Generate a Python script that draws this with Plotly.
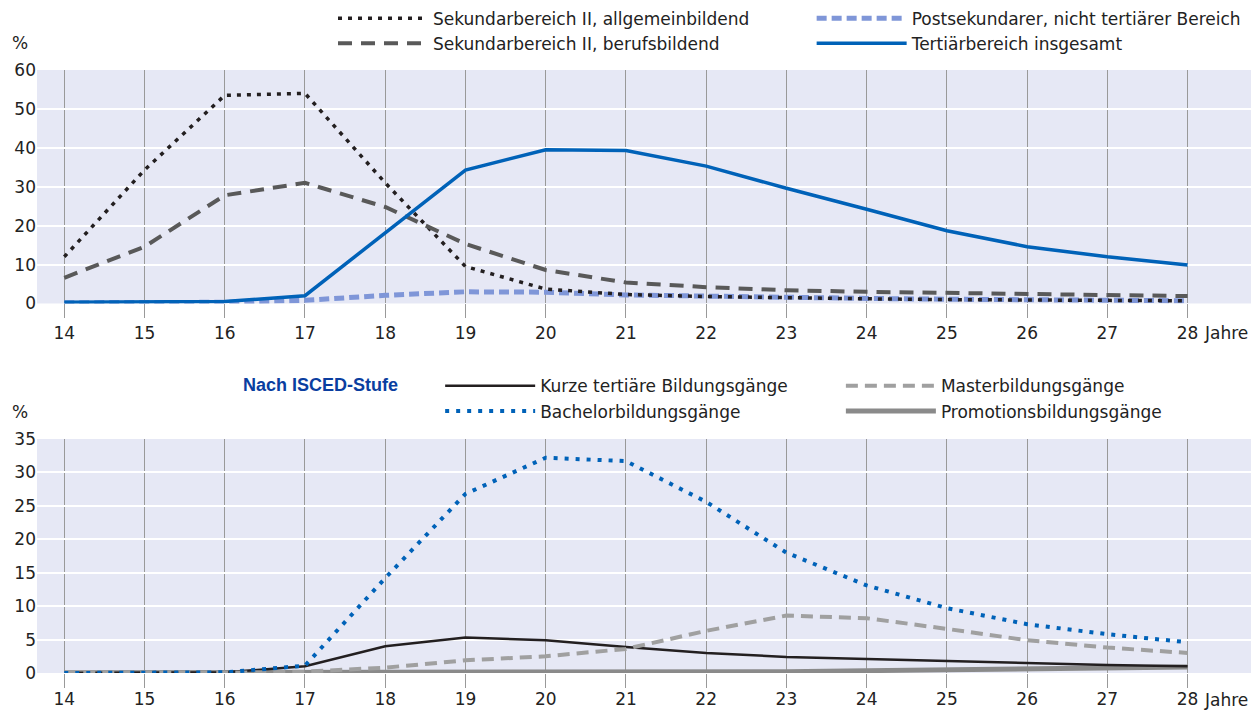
import plotly.graph_objects as go
from plotly.subplots import make_subplots

alter = list(range(14, 29))

# oberes Diagramm: Bildungsbereiche (%)
sek_allg = [12, 34.3, 53.5, 54, 31, 9.5, 3.7, 2.3, 1.8, 1.4, 1.2, 1.0, 0.9, 0.8, 0.7]
sek_beruf = [6.6, 14.6, 27.8, 31, 24.8, 15.3, 8.6, 5.4, 4.2, 3.4, 3.0, 2.7, 2.3, 2.0, 1.9]
postsek = [0.2, 0.2, 0.3, 0.8, 2.1, 3.0, 2.9, 2.2, 1.8, 1.5, 1.3, 1.1, 0.9, 0.8, 0.7]
tertiaer = [0.3, 0.3, 0.5, 2.0, 18.1, 34.3, 39.5, 39.3, 35.3, 29.6, 24.2, 18.7, 14.6, 12.0, 9.9]

# unteres Diagramm: nach ISCED-Stufe (%)
kurz = [0, 0, 0.1, 1.0, 4.0, 5.3, 4.9, 3.9, 3.0, 2.4, 2.1, 1.7, 1.4, 1.2, 1.0]
bachelor = [0, 0, 0.1, 1.1, 14.2, 26.8, 32.2, 31.7, 25.6, 18.0, 13.1, 9.7, 7.3, 5.8, 4.6]
master = [0, 0, 0.05, 0.2, 0.8, 1.9, 2.5, 3.6, 6.3, 8.6, 8.2, 6.6, 4.9, 3.8, 3.0]
promotion = [0.05, 0.05, 0.05, 0.05, 0.05, 0.05, 0.05, 0.05, 0.1, 0.2, 0.35, 0.5, 0.7, 0.8, 0.9]

oben_ticks = [0, 10, 20, 30, 40, 50, 60]
unten_ticks = [0, 5, 10, 15, 20, 25, 30, 35]

FONT = "DejaVu Sans"
BLAU = "#0062b8"
SCHWARZ = "#231f20"

fig = make_subplots(rows=2, cols=1, vertical_spacing=0.2)

# Zeichenreihenfolge: Postsekundar unten, Tertiär oben
oben = [
    ("Postsekundarer, nicht tertiärer Bereich", postsek, "#7f96d8", 5, "10px,5px", "legend2"),
    ("Sekundarbereich II, allgemeinbildend", sek_allg, SCHWARZ, 3.5, "4px,6px", "legend"),
    ("Sekundarbereich II, berufsbildend", sek_beruf, "#595959", 4, "14px,9px", "legend"),
    ("Tertiärbereich insgesamt", tertiaer, BLAU, 3.5, "solid", "legend2"),
]
for name, werte, farbe, breite, dash, leg in oben:
    fig.add_trace(
        go.Scatter(x=alter, y=werte, name=name, mode="lines",
                   line=dict(color=farbe, width=breite, dash=dash), legend=leg),
        row=1, col=1,
    )

unten = [
    ("Promotionsbildungsgänge", promotion, "#8a8a8a", 5, "solid", "legend4"),
    ("Kurze tertiäre Bildungsgänge", kurz, SCHWARZ, 2.5, "solid", "legend3"),
    ("Masterbildungsgänge", master, "#a0a0a0", 4, "12px,7px", "legend4"),
    ("Bachelorbildungsgänge", bachelor, BLAU, 4, "4px,7px", "legend3"),
]
for name, werte, farbe, breite, dash, leg in unten:
    fig.add_trace(
        go.Scatter(x=alter, y=werte, name=name, mode="lines",
                   line=dict(color=farbe, width=breite, dash=dash), legend=leg),
        row=2, col=1,
    )

legend_style = dict(
    orientation="v", xanchor="left", yanchor="top", itemwidth=90,
    bgcolor="rgba(0,0,0,0)", font=dict(family=FONT, size=17, color="#222"),
    itemclick=False, tracegroupgap=0,
)
# Seite hat 8px Rand: Abbildung daher 8px kleiner
fig.update_layout(
    width=1251, height=702,
    plot_bgcolor="#e6e8f5", paper_bgcolor="white",
    font=dict(family=FONT, size=17, color="#222"),
    margin=dict(l=29, r=4, t=62, b=37, autoexpand=False),
    showlegend=True,
    legend=dict(x=0.243, y=1.115, **legend_style),
    legend2=dict(x=0.636, y=1.115, **legend_style),
    legend3=dict(x=0.331, y=0.5053, **legend_style),
    legend4=dict(x=0.66, y=0.5053, traceorder="reversed", **legend_style),
)

fig.update_xaxes(
    range=[13.66, 28.84], tickvals=alter, showgrid=True, gridcolor="#999",
    gridwidth=1, ticks="outside", ticklen=14, tickcolor="#999", zeroline=False,
    showline=False, automargin=False,
)
fig.update_xaxes(ticklabelstandoff=-3, row=2, col=1)
fig.update_yaxes(gridcolor="white", gridwidth=2, zeroline=False, showline=False,
                 automargin=False)
fig.update_yaxes(range=[0, 60], tickvals=oben_ticks, row=1, col=1)
fig.update_yaxes(range=[0, 35], tickvals=unten_ticks, row=2, col=1)
fig.update_layout(
    yaxis=dict(domain=[0.6128, 1]),
    yaxis2=dict(domain=[0, 0.388]),
)

for yref, xref, yshift in [("y domain", "x", -30), ("y2 domain", "x2", -27)]:
    fig.add_annotation(x=0, xref="paper", y=1, yref=yref, yshift=27, xshift=-17,
                       text="%", showarrow=False, xanchor="center", yanchor="middle")
    fig.add_annotation(x=28, xref=xref, y=0, yref=yref, yshift=yshift, xshift=14,
                       text="Jahre", showarrow=False, xanchor="left", yanchor="middle")

fig.add_annotation(x=(400 - 37) / 1218, xref="paper", y=0.477, yref="paper",
                   text="<b>Nach ISCED-Stufe</b>", showarrow=False,
                   xanchor="right", yanchor="middle",
                   font=dict(family="Liberation Sans", size=18, color="#0a3ea0"))

fig.write_html("out.html")
